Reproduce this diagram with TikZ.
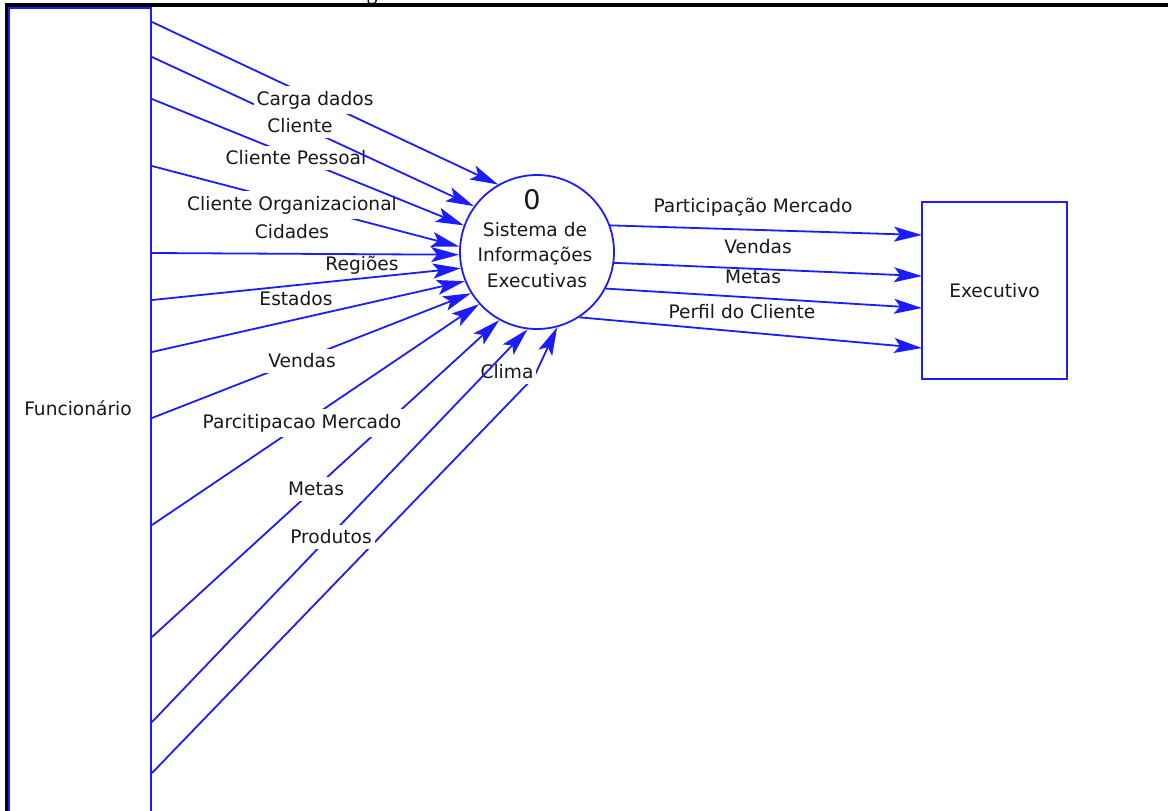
\documentclass[tikz,border=0pt]{standalone}
\usepackage{fontspec}
\setmainfont{DejaVu Sans}
\newfontfamily\captionserif{Liberation Serif}
\usetikzlibrary{arrows.meta}
\definecolor{flowblue}{RGB}{28,28,255}
\definecolor{inkgray}{RGB}{25,25,25}

\begin{document}
\begin{tikzpicture}[x=0.5pt,y=-0.5pt,
  flowline/.style={draw=flowblue, line width=0.9pt},
  flow/.style={flowline, -{Stealth[length=14pt,width=7.5pt,inset=3pt]}},
  entity/.style={draw=flowblue, line width=1.3pt, rectangle},
  process/.style={draw=flowblue, line width=0.9pt, circle, minimum size=77pt, inner sep=0pt},
  lbl/.style={text=inkgray, font=\fontsize{9.3}{11}\selectfont, inner sep=1pt},
  cutlbl/.style={lbl, fill=white, inner xsep=1.5pt, inner ysep=2.5pt},
]
\useasboundingbox (0,0) rectangle (1168,810);
\fill[white] (0,0) rectangle (1168,810);

% page frame and the descender of the caption line above it
\begin{scope}
  \clip (0,0) rectangle (1168,810);
  \node[font=\captionserif\fontsize{11}{13}\selectfont, anchor=base, inner sep=0pt, text=black] (capg) at (372,-1) {g};
  \draw[black, line width=1.8pt, line join=miter] (6.5,830) -- (6.5,5) -- (1190,5);
\end{scope}

% external entity: Funcionario (runs off the bottom of the page)
\draw[entity] (9,8) rectangle (151,830);
\node[lbl] (func) at (78,408) {Funcionário};

% process 0
\node[process] (sie) at (537,252) {};
\node[lbl, font=\fontsize{13.5}{15}\selectfont] (sienum) at (532,200) {0};
\node[lbl] (sie1) at (535,230) {Sistema de};
\node[lbl] (sie2) at (535,256) {Informações};
\node[lbl] (sie3) at (537,281) {Executivas};

% external entity: Executivo
\node[entity, minimum width=72.5pt, minimum height=88.5pt, inner sep=0pt, text=inkgray,
      font=\fontsize{9.3}{11}\selectfont] (exe) at (994.5,290.5) {Executivo};

% start points of the incoming flows on the Funcionario box
\coordinate (s1) at (152,22);
\coordinate (s2) at (152,57);
\coordinate (s3) at (152,99);
\coordinate (s4) at (152,166);
\coordinate (s5) at (152,253);
\coordinate (s6) at (152,300);
\coordinate (s7) at (152,352);
\coordinate (s8) at (152,418);
\coordinate (s9) at (152,525);
\coordinate (s10) at (152,637);
\coordinate (s11) at (152,722);
\coordinate (s12) at (152,773);
\coordinate (b12) at (534,377);

% incoming flows, lowest first so that labels mask the lines below them
\draw[flow] (s12) -- (b12) -- (sie.285);
\node[cutlbl] (l12) at (507,372) {Clima};
\draw[flow] (s11) -- (sie.263);
\node[cutlbl] (l11) at (331,537) {Produtos};
\draw[flow] (s10) -- (sie.241);
\node[cutlbl] (l10) at (316,489) {Metas};
\draw[flow] (s9) -- (sie.222);
\node[cutlbl] (l9) at (302,423) {Parcitipacao Mercado};
\draw[flow] (s8) -- (sie.212);
\node[cutlbl] (l8) at (302,361) {Vendas};
\draw[flow] (s7) -- (sie.202);
\node[lbl] (l7) at (296,299) {Estados};
\draw[flow] (s6) -- (sie.192);
\node[lbl] (l6) at (362,265) {Regiões};
\draw[flow] (s5) -- (sie.182);
\node[lbl] (l5) at (292,232) {Cidades};
\draw[flow] (s4) -- (sie.176);
\node[cutlbl] (l4) at (292,205) {Cliente Organizacional};
\draw[flow] (s3) -- (sie.160);
\node[cutlbl] (l3) at (296,158) {Cliente Pessoal};
\draw[flow] (s2) -- (sie.144);
\node[cutlbl] (l2) at (300,126) {Cliente};
\draw[flow] (s1) -- (sie.120);
\node[cutlbl] (l1) at (315,100) {Carga dados};

% outgoing flows to Executivo
\coordinate (e1) at (922,235);
\coordinate (e2) at (922,276);
\coordinate (e3) at (922,308);
\coordinate (e4) at (922,348);
\draw[flow] (sie.20) -- (e1);
\draw[flow] (sie.-8) -- (e2);
\draw[flow] (sie.-28) -- (e3);
\draw[flow] (sie.-57) -- (e4);
\node[lbl] (r1) at (753,207) {Participação Mercado};
\node[lbl] (r2) at (758,247) {Vendas};
\node[lbl] (r3) at (753,277) {Metas};
\node[lbl] (r4) at (742,312) {Perfil do Cliente};
\end{tikzpicture}
\end{document}
